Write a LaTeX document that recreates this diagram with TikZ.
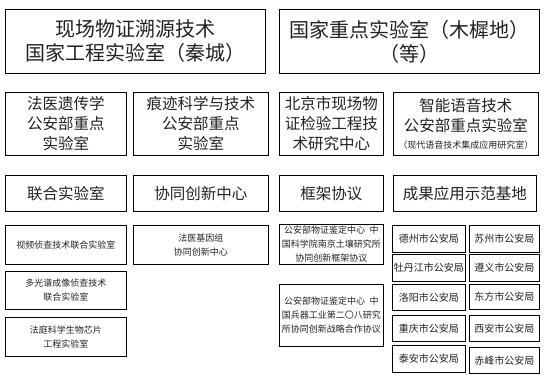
\documentclass[tikz,border=0pt]{standalone}
\usepackage{fontspec}
\setmainfont{Noto Sans CJK SC}
\usepackage{xcolor}
\definecolor{inkgray}{HTML}{222222}
\usepackage{tikz}
\usetikzlibrary{positioning}

\tikzset{
  labbox/.style={draw=black, line width=0.9pt, anchor=north west,
        align=center, inner sep=0pt, text=inkgray},
  bigtext/.style={font=\fontsize{20}{24}\selectfont},
  midtext/.style={font=\fontsize{15.5}{20}\selectfont},
  smalltext/.style={font=\fontsize{9}{14}\selectfont},
  citytext/.style={font=\fontsize{10}{12}\selectfont},
}

\begin{document}
\begin{tikzpicture}[x=1pt, y=-1pt]
  \useasboundingbox (0,0) rectangle (550,375);

  % national labs
  \node[labbox, bigtext, minimum width=260pt, minimum height=64pt] (qincheng)
        at (5,9) {现场物证溯源技术\\国家工程实验室（秦城）};
  \node[labbox, bigtext, minimum width=260pt, minimum height=64pt] (muxidi)
        at (279,9) {国家重点实验室（木樨地）\\（等）};

  % ministry labs
  \node[labbox, midtext, minimum width=121pt, minimum height=63pt] (genetics)
        at (5,92) {法医遗传学\\公安部重点\\实验室};
  \node[labbox, midtext, minimum width=135pt, minimum height=63pt] (traces)
        at (133,92) {痕迹科学与技术\\公安部重点\\实验室};
  \node[labbox, midtext, minimum width=104pt, minimum height=63pt] (beijing)
        at (279,92) {北京市现场物\\证检验工程技\\术研究中心};
  \node[labbox, midtext, minimum width=145pt, minimum height=63pt] (voice)
        at (393,92) {智能语音技术\\公安部重点实验室\\[-3pt]
        {\fontsize{9}{10}\selectfont（现代语音技术集成应用研究室）}};

  % categories
  \node[labbox, midtext, minimum width=121pt, minimum height=36pt] (joint)
        at (5,175) {联合实验室};
  \node[labbox, midtext, minimum width=135pt, minimum height=36pt] (synergy)
        at (133,175) {协同创新中心};
  \node[labbox, midtext, minimum width=104pt, minimum height=36pt] (frame)
        at (279,175) {框架协议};
  \node[labbox, midtext, minimum width=143pt, minimum height=36pt] (demo)
        at (393,175) {成果应用示范基地};

  % joint labs
  \node[labbox, smalltext, minimum width=121pt, minimum height=39pt] (video)
        at (5,225) {视频侦查技术联合实验室};
  \node[labbox, smalltext, minimum width=121pt, minimum height=38pt] (spectral)
        at (5,271) {多光谱成像侦查技术\\联合实验室};
  \node[labbox, smalltext, minimum width=121pt, minimum height=39pt] (biochip)
        at (5,317) {法庭科学生物芯片\\工程实验室};

  % synergy centre
  \node[labbox, smalltext, minimum width=135pt, minimum height=39pt] (genome)
        at (133,225) {法医基因组\\协同创新中心};

  % agreements
  \node[labbox, smalltext, minimum width=104pt, minimum height=40pt] (soil)
        at (279,224) {公安部物证鉴定中心\enspace 中\\国科学院南京土壤研究所\\协同创新框架协议};
  \node[labbox, smalltext, minimum width=104pt, minimum height=62pt] (ordnance)
        at (279,284) {公安部物证鉴定中心\enspace 中\\国兵器工业第二〇八研究\\所协同创新战略合作协议};

  % demonstration bases
  \node[labbox, citytext, minimum width=73pt, minimum height=27pt] (dezhou)
        at (392,225) {德州市公安局};
  \node[labbox, citytext, minimum width=70pt, minimum height=27pt] (suzhou)
        at (469,225) {苏州市公安局};
  \node[labbox, citytext, minimum width=73pt, minimum height=27pt] (mudanjiang)
        at (392,254) {牡丹江市公安局};
  \node[labbox, citytext, minimum width=70pt, minimum height=27pt] (zunyi)
        at (469,254) {遵义市公安局};
  \node[labbox, citytext, minimum width=73pt, minimum height=26pt] (luoyang)
        at (392,284) {洛阳市公安局};
  \node[labbox, citytext, minimum width=70pt, minimum height=25pt] (dongfang)
        at (469,284) {东方市公安局};
  \node[labbox, citytext, minimum width=73pt, minimum height=26pt] (chongqing)
        at (392,315) {重庆市公安局};
  \node[labbox, citytext, minimum width=70pt, minimum height=26pt] (xian)
        at (469,315) {西安市公安局};
  \node[labbox, citytext, minimum width=73pt, minimum height=27pt] (taian)
        at (392,345) {泰安市公安局};
  \node[labbox, citytext, minimum width=70pt, minimum height=26pt] (chifeng)
        at (469,347) {赤峰市公安局};

\end{tikzpicture}
\end{document}
